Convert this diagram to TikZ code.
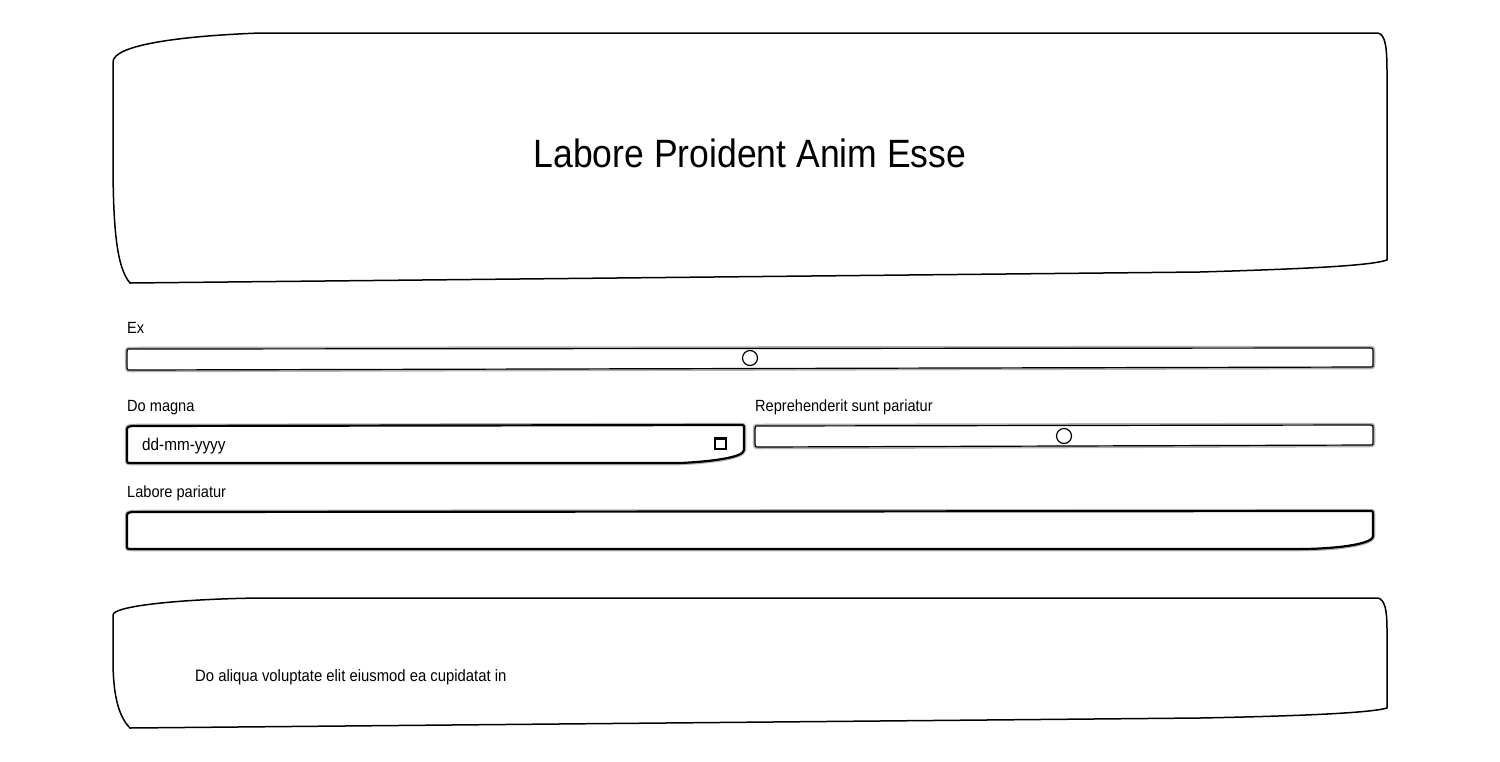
\documentclass[tikz,border=0pt]{standalone}
\usepackage{fontspec}
\setmainfont{Liberation Sans}[FakeStretch=0.9]
\usepackage{tikz}

\begin{document}
\begin{tikzpicture}[x=1pt,y=-1pt,
		sketch/.style={draw=black,line width=1.5pt,line join=round,fill=white},
		field/.style={draw=black,line width=2.2pt,line join=round,fill=white},
		slider/.style={draw=black,line width=1.2pt,line join=round,fill=white},
		halo/.style={draw=black!30,line width=4.5pt,line join=round},
		thumb/.style={circle,draw=black,line width=1.2pt,fill=white,inner sep=0pt,minimum size=15pt},
		lbl/.style={anchor=base west,inner sep=0pt,font=\fontsize{16.2}{19}\selectfont}]
		\useasboundingbox (0,0) rectangle (1500,761);
		% header card
		\draw[sketch] (113,62) .. controls (113,45) and (180,36) .. (260,33) -- (1378,33)
			.. controls (1385,35) and (1387,45) .. (1387,72) -- (1387,260)
			.. controls (1370,266) and (1300,269) .. (1200,272) -- (130,283)
			.. controls (117,268) and (113,230) .. (113,160) -- cycle;
		\node (title) at (750,167) [anchor=base,inner sep=0pt,font=\fontsize{39.5}{46}\selectfont] {Labore Proident Anim Esse};
		
		% first slider
		\node (ex) at (127,333) [lbl] {Ex};
		\foreach \st in {halo,slider}
			\draw[\st] (127,352) .. controls (127,349) .. (131,349) -- (1370,348) .. controls (1373,348) .. (1373,351)
				-- (1373,365) .. controls (1373,367) .. (1370,367) -- (132,370) .. controls (127,370) .. (127,367) -- cycle;
		\node (exthumb) at (750,358) [thumb] {};
		
		% date field
		\node (domagna) at (127,411) [lbl] {Do magna};
		\foreach \st in {halo,field}
			\draw[\st] (127,432) .. controls (127,427) .. (132,426) -- (740,425) .. controls (744,425) .. (744,429)
				-- (744,450) .. controls (744,458) and (705,462) .. (680,463) -- (132,463) .. controls (127,463) .. (127,459) -- cycle;
		\node (date) at (142,450) [lbl,font=\fontsize{17}{20}\selectfont] {dd-mm-yyyy};
		\draw[line width=1.2pt] (715,438) rectangle (726,449);
		\draw[line width=2.2pt] (715,439) -- (726,439);
		
		% second slider
		\node (repr) at (755,411) [lbl] {Reprehenderit sunt pariatur};
		\foreach \st in {halo,slider}
			\draw[\st] (755,429) .. controls (755,426) .. (759,426) -- (1370,425) .. controls (1373,425) .. (1373,428)
				-- (1373,443) .. controls (1373,445) .. (1370,445) -- (760,447) .. controls (755,447) .. (755,444) -- cycle;
		\node (reprthumb) at (1064,436) [thumb] {};
		
		% text field
		\node (labore) at (127,497) [lbl] {Labore pariatur};
		\foreach \st in {halo,field}
			\draw[\st] (127,518) .. controls (127,513) .. (132,512) -- (1369,511) .. controls (1373,511) .. (1373,515)
				-- (1373,536) .. controls (1373,545) and (1330,549) .. (1300,549) -- (132,549) .. controls (127,549) .. (127,545) -- cycle;
		
		% footer card
		\draw[sketch] (113,615) .. controls (113,606) and (180,599) .. (260,598) -- (1378,598)
			.. controls (1385,600) and (1387,610) .. (1387,630) -- (1387,708)
			.. controls (1370,713) and (1300,716) .. (1200,718) -- (130,728)
			.. controls (117,715) and (113,690) .. (113,660) -- cycle;
		\node (note) at (195,681) [lbl,font=\fontsize{16.5}{19}\selectfont] {Do aliqua voluptate elit eiusmod ea cupidatat in};
\end{tikzpicture}
\end{document}
